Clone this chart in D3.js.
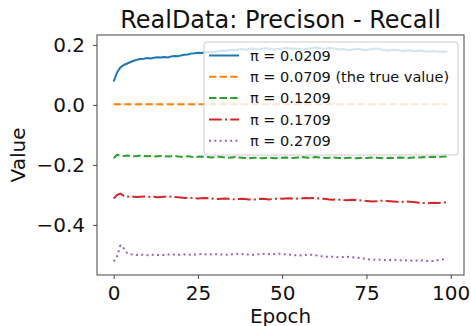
<!DOCTYPE html>
<html>
<head>
<meta charset="utf-8">
<script src="https://cdn.jsdelivr.net/npm/d3@7"></script>
<style>
  body { margin: 0; background: #fff; }
  text { font-family: "DejaVu Sans", sans-serif; fill: #111; }
</style>
</head>
<body>
<div id="chart"></div>
<script>
// Series values, one per epoch (0..99)
const epochs = d3.range(0, 100);

const pi0209 = [
  0.078, 0.108, 0.125, 0.133, 0.138, 0.143, 0.147, 0.151, 0.153, 0.154,
  0.156, 0.155, 0.157, 0.159, 0.158, 0.160, 0.158, 0.161, 0.163, 0.162,
  0.165, 0.167, 0.168, 0.171, 0.172, 0.174, 0.173, 0.175, 0.176, 0.175,
  0.177, 0.179, 0.181, 0.180, 0.182, 0.184, 0.183, 0.185, 0.186, 0.184,
  0.186, 0.188, 0.187, 0.185, 0.187, 0.189, 0.188, 0.186, 0.185, 0.187,
  0.188, 0.190, 0.189, 0.187, 0.188, 0.186, 0.184, 0.186, 0.188, 0.190,
  0.191, 0.189, 0.187, 0.188, 0.190, 0.189, 0.187, 0.185, 0.186, 0.184,
  0.183, 0.185, 0.187, 0.186, 0.184, 0.183, 0.185, 0.187, 0.188, 0.186,
  0.183, 0.181, 0.182, 0.184, 0.183, 0.181, 0.180, 0.182, 0.181, 0.179,
  0.180, 0.181, 0.179, 0.178, 0.179, 0.180, 0.178, 0.177, 0.178, 0.177
];
const pi0709 = [
  0.002, 0.002, 0.002, 0.002, 0.002, 0.002, 0.002, 0.002, 0.002, 0.002,
  0.002, 0.002, 0.002, 0.002, 0.002, 0.002, 0.002, 0.002, 0.002, 0.002,
  0.002, 0.002, 0.002, 0.002, 0.002, 0.002, 0.002, 0.002, 0.002, 0.002,
  0.002, 0.002, 0.002, 0.002, 0.002, 0.002, 0.002, 0.002, 0.002, 0.002,
  0.002, 0.002, 0.002, 0.002, 0.002, 0.002, 0.002, 0.002, 0.002, 0.002,
  0.002, 0.002, 0.002, 0.002, 0.002, 0.002, 0.002, 0.002, 0.002, 0.002,
  0.002, 0.002, 0.002, 0.002, 0.002, 0.002, 0.002, 0.002, 0.002, 0.002,
  0.002, 0.002, 0.002, 0.002, 0.002, 0.002, 0.002, 0.002, 0.002, 0.002,
  0.002, 0.002, 0.002, 0.002, 0.002, 0.002, 0.002, 0.002, 0.002, 0.002,
  0.002, 0.002, 0.002, 0.002, 0.002, 0.002, 0.002, 0.002, 0.002, 0.002
];
const pi1209 = [
  -0.178, -0.166, -0.168, -0.170, -0.169, -0.170, -0.171, -0.170, -0.169, -0.170,
  -0.171, -0.170, -0.172, -0.171, -0.170, -0.171, -0.172, -0.171, -0.170, -0.172,
  -0.173, -0.172, -0.171, -0.173, -0.174, -0.173, -0.172, -0.173, -0.174, -0.175,
  -0.174, -0.173, -0.174, -0.175, -0.176, -0.175, -0.174, -0.175, -0.176, -0.177,
  -0.178, -0.177, -0.176, -0.177, -0.178, -0.177, -0.176, -0.177, -0.178, -0.177,
  -0.176, -0.175, -0.176, -0.177, -0.176, -0.175, -0.174, -0.175, -0.176, -0.175,
  -0.174, -0.175, -0.176, -0.177, -0.176, -0.175, -0.176, -0.177, -0.178, -0.177,
  -0.176, -0.177, -0.178, -0.177, -0.176, -0.177, -0.176, -0.175, -0.176, -0.177,
  -0.178, -0.177, -0.176, -0.177, -0.176, -0.175, -0.176, -0.177, -0.176, -0.175,
  -0.176, -0.175, -0.174, -0.175, -0.174, -0.173, -0.174, -0.173, -0.172, -0.172
];
const pi1709 = [
  -0.312, -0.300, -0.296, -0.303, -0.306, -0.305, -0.306, -0.307, -0.306, -0.305,
  -0.306, -0.307, -0.306, -0.308, -0.307, -0.306, -0.305, -0.306, -0.307, -0.308,
  -0.309, -0.310, -0.309, -0.310, -0.311, -0.312, -0.311, -0.310, -0.311, -0.312,
  -0.313, -0.314, -0.313, -0.312, -0.313, -0.314, -0.315, -0.314, -0.313, -0.314,
  -0.315, -0.316, -0.315, -0.314, -0.313, -0.314, -0.315, -0.314, -0.313, -0.312,
  -0.313, -0.312, -0.311, -0.312, -0.313, -0.312, -0.311, -0.310, -0.311, -0.310,
  -0.311, -0.312, -0.313, -0.314, -0.315, -0.316, -0.315, -0.316, -0.317, -0.318,
  -0.317, -0.316, -0.317, -0.318, -0.319, -0.320, -0.321, -0.322, -0.321, -0.320,
  -0.319, -0.320, -0.321, -0.322, -0.323, -0.324, -0.323, -0.322, -0.323, -0.324,
  -0.325, -0.326, -0.327, -0.328, -0.327, -0.326, -0.327, -0.326, -0.325, -0.324
];
const pi2709 = [
  -0.522, -0.505, -0.468, -0.478, -0.494, -0.498, -0.499, -0.500, -0.499, -0.500,
  -0.501, -0.500, -0.499, -0.500, -0.501, -0.500, -0.499, -0.498, -0.499, -0.500,
  -0.499, -0.498, -0.499, -0.500, -0.499, -0.498, -0.497, -0.498, -0.499, -0.498,
  -0.497, -0.498, -0.499, -0.500, -0.499, -0.498, -0.497, -0.496, -0.497, -0.498,
  -0.499, -0.500, -0.499, -0.498, -0.497, -0.496, -0.497, -0.498, -0.497, -0.496,
  -0.497, -0.498, -0.499, -0.500, -0.501, -0.502, -0.501, -0.500, -0.499, -0.500,
  -0.501, -0.503, -0.505, -0.506, -0.507, -0.506, -0.507, -0.508, -0.507, -0.506,
  -0.507, -0.508, -0.509, -0.510, -0.512, -0.514, -0.515, -0.516, -0.515, -0.516,
  -0.517, -0.518, -0.517, -0.516, -0.517, -0.518, -0.519, -0.518, -0.519, -0.520,
  -0.519, -0.518, -0.519, -0.520, -0.521, -0.520, -0.518, -0.516, -0.514, -0.513
];

const labels = ["π = 0.0209", "π = 0.0709 (the true value)", "π = 0.1209", "π = 0.1709", "π = 0.2709"];
const colors = ["#1f77b4", "#ff7f0e", "#2ca02c", "#d62728", "#9467bd"];
const dashes = [null, "7.4,3.2", "7.4,3.2", "12.8,3.2,2,3.2", "2,3.3"];
const xTicks = [0, 25, 50, 75, 100];
const yTicks = [0.2, 0.0, -0.2, -0.4];

const series = [pi0209, pi0709, pi1209, pi1709, pi2709].map((vals, i) => ({
  label: labels[i], color: colors[i], dash: dashes[i],
  values: vals.map((v, j) => ({ epoch: epochs[j], value: v }))
}));

const W = 471, H = 326;
const margin = { top: 35, right: 7, bottom: 51, left: 97 };
const width = W - margin.left - margin.right,
      height = H - margin.top - margin.bottom;

const svg = d3.select("#chart").append("svg")
  .attr("width", W).attr("height", H);
const g = svg.append("g").attr("transform", `translate(${margin.left},${margin.top})`);

const x = d3.scaleLinear().domain([-4.95, 103.95]).range([0, width]);
const y = d3.scaleLinear().domain([-0.567, 0.233]).range([height, 0]);

// lines
const line = d3.line().x(d => x(d.epoch)).y(d => y(d.value));
g.selectAll("path.series")
  .data(series)
  .enter().append("path")
    .attr("class", "series")
    .attr("fill", "none")
    .attr("stroke", d => d.color)
    .attr("stroke-width", 2)
    .attr("stroke-linejoin", "round")
    .attr("stroke-dasharray", d => d.dash)
    .attr("d", d => line(d.values));

// axes
const fmt = d => d3.format(".1f")(d).replace("-", "\u2212");
const xAxis = g.append("g").attr("transform", `translate(0,${height})`)
  .call(d3.axisBottom(x).tickValues(xTicks).tickSize(4).tickPadding(7).tickSizeOuter(0));
const yAxis = g.append("g")
  .call(d3.axisLeft(y).tickValues(yTicks).tickFormat(fmt).tickSize(4).tickPadding(8).tickSizeOuter(0));
[xAxis, yAxis].forEach(a => {
  a.select(".domain").remove();
  a.selectAll(".tick line").attr("stroke", "#444");
  a.selectAll(".tick text").attr("font-size", 20).attr("font-family", "DejaVu Sans").attr("fill", "#111");
});

// frame
g.append("rect")
  .attr("width", width).attr("height", height)
  .attr("fill", "none").attr("stroke", "#444").attr("stroke-width", 1);

// legend
const legend = g.append("g").attr("transform", `translate(${204 - margin.left},${42 - margin.top})`);
legend.append("rect")
  .attr("width", 254).attr("height", 113).attr("rx", 3)
  .attr("fill", "#fff").attr("fill-opacity", 0.8)
  .attr("stroke", "#ccc").attr("stroke-width", 1);
const item = legend.selectAll("g.item")
  .data(series)
  .enter().append("g")
    .attr("class", "item")
    .attr("transform", (d, i) => `translate(0,${13.5 + i * 21.3})`);
item.append("line")
  .attr("x1", 5).attr("x2", 35)
  .attr("stroke", d => d.color).attr("stroke-width", 2)
  .attr("stroke-dasharray", d => d.dash);
item.append("text")
  .attr("x", 46).attr("dy", "0.36em")
  .attr("font-size", 14.5)
  .text(d => d.label);

// titles
svg.append("text")
  .attr("x", margin.left + width / 2).attr("y", 28)
  .attr("text-anchor", "middle").attr("font-size", 24)
  .text("RealData: Precison - Recall");
svg.append("text")
  .attr("x", margin.left + width / 2).attr("y", 323)
  .attr("text-anchor", "middle").attr("font-size", 20)
  .text("Epoch");
svg.append("text")
  .attr("transform", `translate(25,${margin.top + height / 2}) rotate(-90)`)
  .attr("text-anchor", "middle").attr("font-size", 20)
  .text("Value");
</script>
</body>
</html>
